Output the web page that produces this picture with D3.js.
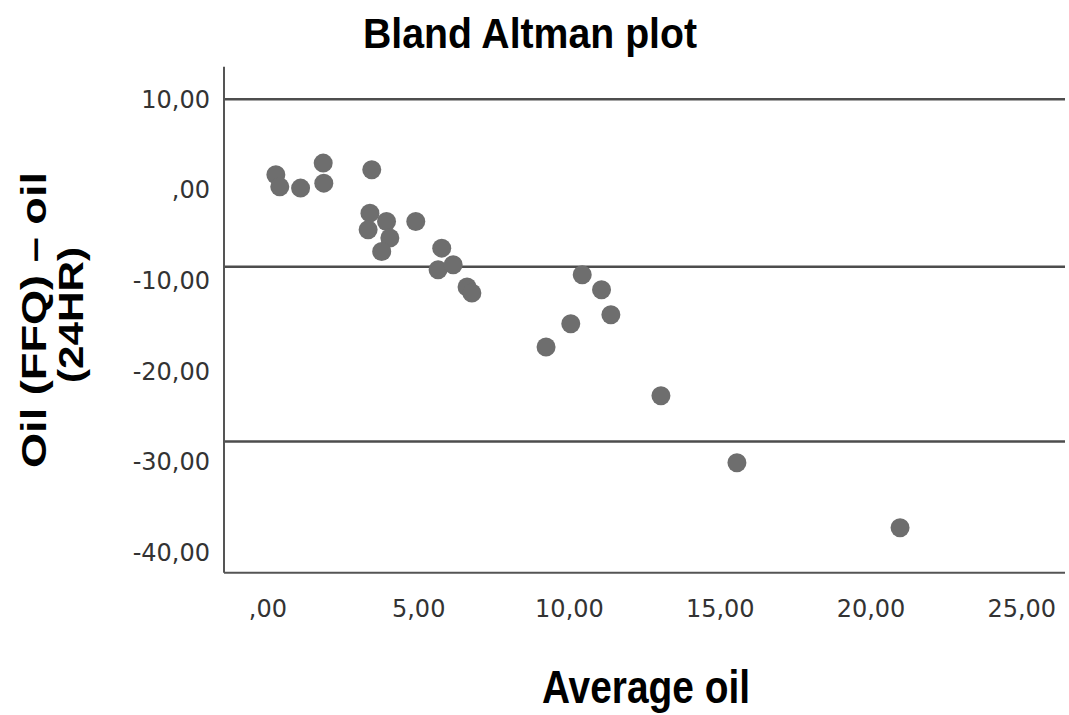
<!DOCTYPE html>
<html>
<head>
<meta charset="utf-8">
<script src="https://cdn.jsdelivr.net/npm/d3@7"></script>
<style>
  html, body { margin: 0; padding: 0; background: #ffffff; }
  svg { display: block; }
</style>
</head>
<body>
<svg id="chart" width="1069" height="715"></svg>
<script>
// ---- Data ----
const avgOil  = [0.28, 0.41, 1.10, 1.85, 1.87, 3.46, 3.40, 3.34, 3.95, 4.06, 3.79, 4.92,
                 5.78, 5.66, 6.16, 6.62, 6.78, 10.44, 11.08, 11.39, 10.06, 9.24, 13.05, 15.57, 20.98];
const diffOil = [1.68, 0.35, 0.21, 2.97, 0.76, 2.23, -2.55, -4.39, -3.47, -5.30, -6.78, -3.47,
                 -6.41, -8.80, -8.25, -10.70, -11.36, -9.35, -11.00, -13.76, -14.75, -17.32, -22.69, -30.08, -37.24];
const refLineNames  = ["upper", "mean", "lower"];
const refLineValues = [10.0, -8.46, -27.73];
const xTickValues = [0, 5, 10, 15, 20, 25];
const yTickValues = [10, 0, -10, -20, -30, -40];
const titleText = "Bland Altman plot";
const xTitle = "Average oil";
const yTitleLines = ["Oil (FFQ) \u2013 oil", "(24HR)"];

// ---- Layout ----
const svg = d3.select("#chart");
const pLeft = 224, pRight = 1065, pTop = 66.7, pBottom = 572.7;

const x = d3.scaleLinear().domain([-1.44, 26.45]).range([pLeft, pRight]);
const y = d3.scaleLinear().domain([13.6, -42.2]).range([pTop, pBottom]);

const fmt = d => d === 0 ? ",00" : (d < 0 ? "-" : "") + Math.abs(d).toFixed(2).replace(".", ",");

// Reference lines
svg.append("g").selectAll("line").data(refLineValues).join("line")
  .attr("x1", pLeft).attr("x2", pRight)
  .attr("y1", d => y(d)).attr("y2", d => y(d))
  .attr("stroke", "#4d4d4d").attr("stroke-width", 2.5);

// Points
const pts = avgOil.map((a, i) => ({ a, d: diffOil[i] }));
svg.append("g").selectAll("circle").data(pts).join("circle")
  .attr("cx", p => x(p.a)).attr("cy", p => y(p.d))
  .attr("r", 9.5).attr("fill", "#6e6e6e");

// Axes
const yAxis = d3.axisLeft(y).tickValues(yTickValues).tickSize(0).tickPadding(14).tickFormat(fmt);
const gy = svg.append("g").attr("transform", `translate(${pLeft},0)`).call(yAxis);
const xAxis = d3.axisBottom(x).tickValues(xTickValues).tickSize(0).tickPadding(27).tickFormat(fmt);
const gx = svg.append("g").attr("transform", `translate(0,${pBottom})`).call(xAxis);
[gx, gy].forEach(g => {
  g.select(".domain").remove();
  g.selectAll("text").attr("font-family", "DejaVu Sans, sans-serif").attr("font-size", 24).attr("fill", "#333");
});

// Axis frame lines
svg.append("line").attr("x1", pLeft).attr("x2", pLeft).attr("y1", pTop).attr("y2", pBottom)
  .attr("stroke", "#555").attr("stroke-width", 2);
svg.append("line").attr("x1", pLeft).attr("x2", pRight).attr("y1", pBottom).attr("y2", pBottom)
  .attr("stroke", "#555").attr("stroke-width", 2);

// Title
svg.append("text").text(titleText)
  .attr("x", 363).attr("y", 48)
  .attr("font-family", "Liberation Sans, Arial, sans-serif").attr("font-weight", "bold")
  .attr("font-size", 42).attr("fill", "#000")
  .attr("textLength", 334).attr("lengthAdjust", "spacingAndGlyphs");

// X title
svg.append("text").text(xTitle)
  .attr("x", 542).attr("y", 703)
  .attr("font-family", "Liberation Sans, Arial, sans-serif").attr("font-weight", "bold")
  .attr("font-size", 46).attr("fill", "#000")
  .attr("textLength", 208).attr("lengthAdjust", "spacingAndGlyphs");

// Y title (two rotated lines)
const yt = [{ t: yTitleLines[0], bx: 46, cy: 320, len: 296 }, { t: yTitleLines[1], bx: 83, cy: 315, len: 136 }];
yt.forEach(o => {
  svg.append("text").text(o.t)
    .attr("transform", `translate(${o.bx},${o.cy}) rotate(-90)`)
    .attr("text-anchor", "middle")
    .attr("font-family", "Liberation Sans, Arial, sans-serif").attr("font-weight", "bold")
    .attr("font-size", 35).attr("fill", "#000")
    .attr("textLength", o.len).attr("lengthAdjust", "spacingAndGlyphs");
});
</script>
</body>
</html>
